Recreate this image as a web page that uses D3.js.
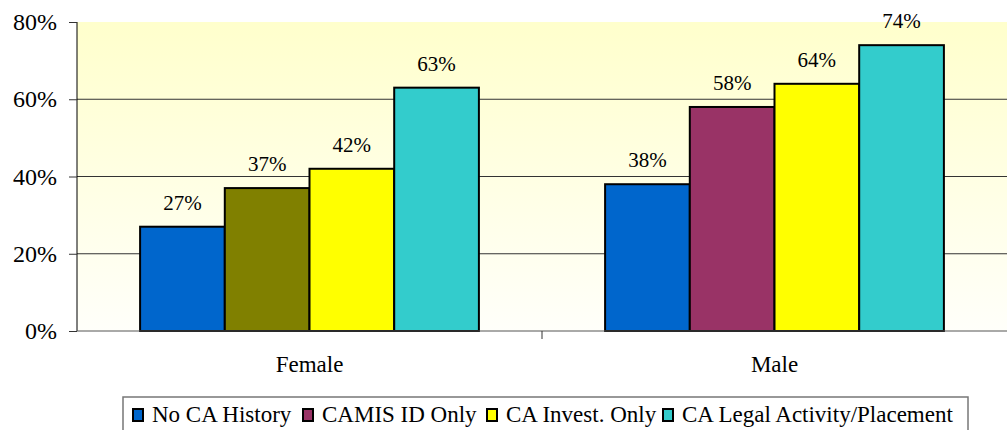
<!DOCTYPE html>
<html>
<head>
<meta charset="utf-8">
<script src="https://cdn.jsdelivr.net/npm/d3@7"></script>
<style>
  body { margin: 0; background: #fff; }
</style>
</head>
<body>
<svg id="chart" width="1007" height="430"></svg>
<script>
// chart data
const groups = ["Female", "Male"];
const seriesNames = ["No CA History", "CAMIS ID Only", "CA Invest. Only", "CA Legal Activity/Placement"];
const seriesColors = ["#0066CC", "#993366", "#FFFF00", "#33CCCC"];
const femaleValues = [27, 37, 42, 63];
const maleValues = [38, 58, 64, 74];
// the female "CAMIS ID Only" bar is drawn in olive in the original
const femaleColors = ["#0066CC", "#808000", "#FFFF00", "#33CCCC"];
const yTicks = [0, 20, 40, 60, 80];

const FONT = '"Liberation Serif"';

const rows = [
  { group: "Female", values: femaleValues, colors: femaleColors },
  { group: "Male", values: maleValues, colors: seriesColors }
];

const svg = d3.select("#chart");
const margin = { top: 22, right: 0, bottom: 99, left: 77 };
const width = 1007 - margin.left - margin.right;
const height = 430 - margin.top - margin.bottom;

// background gradient
const defs = svg.append("defs");
const grad = defs.append("linearGradient")
  .attr("id", "bg")
  .attr("x1", 0).attr("y1", 0).attr("x2", 0).attr("y2", 1);
grad.append("stop").attr("offset", "0%").attr("stop-color", "#FFFFCC");
grad.append("stop").attr("offset", "100%").attr("stop-color", "#FFFFFA");

const g = svg.append("g").attr("transform", `translate(${margin.left},${margin.top})`);

g.append("rect")
  .attr("width", width)
  .attr("height", height)
  .attr("fill", "url(#bg)");

const x0 = d3.scaleBand().domain(groups).range([0, width]).paddingInner(0).paddingOuter(0);
const x1 = d3.scaleBand().domain(d3.range(seriesNames.length))
  .range([0, x0.bandwidth()]).paddingInner(0).paddingOuter(0.745);
const y = d3.scaleLinear().domain([0, 80]).range([height, 0]);

// gridlines
g.selectAll(".grid")
  .data(yTicks.filter(d => d > 0 && d < 80))
  .join("line")
  .attr("x1", 0).attr("x2", width)
  .attr("y1", d => y(d)).attr("y2", d => y(d))
  .attr("stroke", "#333").attr("stroke-width", 1);

// bars
const grp = g.selectAll(".grp")
  .data(rows)
  .join("g")
  .attr("transform", d => `translate(${x0(d.group)},0)`);

grp.selectAll("rect")
  .data(d => d.values.map((v, i) => ({ v, i, c: d.colors[i] })))
  .join("rect")
  .attr("x", d => x1(d.i))
  .attr("y", d => y(d.v))
  .attr("width", x1.bandwidth())
  .attr("height", d => height - y(d.v))
  .attr("fill", d => d.c)
  .attr("stroke", "#000")
  .attr("stroke-width", 2);

grp.selectAll("text")
  .data(d => d.values.map((v, i) => ({ v, i })))
  .join("text")
  .attr("x", d => x1(d.i) + x1.bandwidth() / 2)
  .attr("y", d => y(d.v) - 17)
  .attr("text-anchor", "middle")
  .style("font-family", FONT)
  .style("font-size", "21px")
  .attr("fill", "#000")
  .text(d => d.v + "%");

// y axis
const yAxis = g.append("g")
  .call(d3.axisLeft(y).tickValues(yTicks).tickFormat(d => d + "%").tickSize(8).tickPadding(12));
yAxis.attr("font-family", null);
yAxis.select(".domain").attr("stroke", "#000").attr("d", `M0,0V${height}`);
yAxis.selectAll(".tick line").attr("stroke", "#333");
yAxis.selectAll("text")
  .style("font-family", FONT).style("font-size", "24px").attr("fill", "#000");

// x axis
const xAxis = g.append("g")
  .attr("transform", `translate(0,${height})`)
  .call(d3.axisBottom(x0).tickSize(0).tickPadding(25));
xAxis.attr("font-family", null);
xAxis.select(".domain").attr("stroke", "#555").attr("d", `M0,0H${width}`);
xAxis.selectAll("text")
  .style("font-family", FONT).style("font-size", "23px").attr("fill", "#000");
// category separator ticks
g.selectAll(".sep")
  .data(groups.slice(1))
  .join("line")
  .attr("x1", d => x0(d)).attr("x2", d => x0(d))
  .attr("y1", height).attr("y2", height + 8)
  .attr("stroke", "#333");

// legend
const legend = svg.append("g").attr("transform", "translate(123,397)");
legend.append("rect")
  .attr("width", 845).attr("height", 40)
  .attr("fill", "#fff").attr("stroke", "#777").attr("stroke-width", 1.5);
const legendX = [9, 179, 363, 539];
const items = legend.selectAll(".item")
  .data(seriesNames)
  .join("g")
  .attr("transform", (d, i) => `translate(${legendX[i]},0)`);
items.append("rect")
  .attr("x", 1).attr("y", 12).attr("width", 10).attr("height", 12)
  .attr("fill", (d, i) => seriesColors[i])
  .attr("stroke", "#000").attr("stroke-width", 2);
items.append("text")
  .attr("x", 20).attr("y", 25)
  .style("font-family", FONT)
  .style("font-size", "23px")
  .text(d => d);
</script>
</body>
</html>
